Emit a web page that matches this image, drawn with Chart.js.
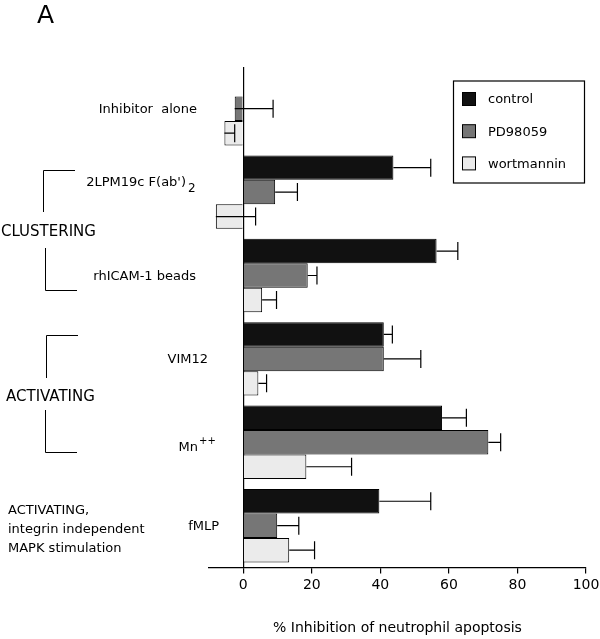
<!DOCTYPE html>
<html>
<head>
<meta charset="utf-8">
<script src="https://cdn.jsdelivr.net/npm/chart.js@4/dist/chart.umd.min.js"></script>
<style>
    html, body { margin: 0; padding: 0; background: #fff; }
    #wrap { width: 600px; height: 639px; position: relative; }
</style>
</head>
<body>
<div id="wrap"><canvas id="chart" width="600" height="639"></canvas></div>
<script>
// Data
const categories = ['Inhibitor  alone', "2LPM19c F(ab')", 'rhICAM-1 beads', 'VIM12', 'Mn', 'fMLP'];
const seriesNames = ['control', 'PD98059', 'wortmannin'];
const controlVals = [0, 43.8, 56.4, 41, 58, 39.7];
const controlErr  = [0, 10.9, 6.2, 2.5, 7.1, 15];
const pdVals      = [-2.5, 9.3, 18.8, 41, 71.5, 9.9];
const pdErr       = [11.2, 6.5, 2.7, 10.8, 3.6, 6.3];
const wortVals    = [-5.5, -8, 5.5, 4.4, 18.4, 13.4];
const wortErr     = [3, 11.6, 4.2, 2.4, 13.2, 7.4];
const xTicks      = [0, 20, 40, 60, 80, 100];

const FONT = '"DejaVu Sans", Verdana, sans-serif';
const colors = ['#111111', '#767676', '#ebebeb'];

// error bars: drawn from bar end towards positive side
const errorBars = {
    id: 'errorBars',
    afterDatasetsDraw(chart) {
        const ctx = chart.ctx;
        const xs = chart.scales.x;
        ctx.save();
        ctx.strokeStyle = '#000';
        ctx.lineWidth = 1.2;
        chart.data.datasets.forEach((ds, i) => {
            const meta = chart.getDatasetMeta(i);
            meta.data.forEach((bar, j) => {
                const e = ds.errors[j];
                if (!e) return;
                const x0 = xs.getPixelForValue(ds.data[j]);
                const x1 = xs.getPixelForValue(ds.data[j] + e);
                const y = bar.y;
                ctx.beginPath();
                ctx.moveTo(x0, y);
                ctx.lineTo(x1, y);
                ctx.moveTo(x1, y - 9);
                ctx.lineTo(x1, y + 9);
                ctx.stroke();
            });
        });
        ctx.restore();
    }
};

// category labels, group brackets, legend box, panel letter
const annotations = {
    id: 'annotations',
    afterDraw(chart) {
        const ctx = chart.ctx;
        const ys = chart.scales.y;
        ctx.save();
        ctx.fillStyle = '#000';
        ctx.textBaseline = 'middle';

        // category labels (right edges vary as in the figure)
        const rightEdges = [197, 186, 196, 208, 198, 219];
        categories.forEach((c, i) => {
            const y = ys.getPixelForValue(i);
            ctx.font = '13px ' + FONT;
            ctx.textAlign = 'right';
            if (i === 1) {
                ctx.fillText(c, rightEdges[i], y - 9);
                ctx.font = '12px ' + FONT;
                ctx.textAlign = 'left';
                ctx.fillText('2', rightEdges[i] + 2, y - 3);
            } else if (i === 4) {
                ctx.fillText(c, rightEdges[i], y + 5);
                ctx.font = '10px ' + FONT;
                ctx.textAlign = 'left';
                ctx.fillText('++', rightEdges[i] + 1, y - 1);
            } else {
                ctx.fillText(c, rightEdges[i], y + 1);
            }
        });

        // side group labels
        ctx.textAlign = 'left';
        ctx.font = '15px ' + FONT;
        ctx.fillText('CLUSTERING', 1, 232);
        ctx.fillText('ACTIVATING', 6, 397);
        ctx.font = '13px ' + FONT;
        ctx.fillText('ACTIVATING,', 8, 511);
        ctx.fillText('integrin independent', 8, 530);
        ctx.fillText('MAPK stimulation', 8, 549);

        ctx.font = '25px ' + FONT;
        ctx.fillText('A', 37, 16);

        // brackets
        ctx.strokeStyle = '#000';
        ctx.lineWidth = 1;
        ctx.beginPath();
        ctx.moveTo(75, 170.5); ctx.lineTo(43.5, 170.5); ctx.lineTo(43.5, 212);
        ctx.moveTo(45.5, 248); ctx.lineTo(45.5, 290.5); ctx.lineTo(77, 290.5);
        ctx.moveTo(78, 335.5); ctx.lineTo(46.5, 335.5); ctx.lineTo(46.5, 378);
        ctx.moveTo(45.5, 410); ctx.lineTo(45.5, 452.5); ctx.lineTo(77, 452.5);
        ctx.stroke();

        // legend
        ctx.lineWidth = 1.2;
        ctx.strokeRect(453.5, 81, 131, 102);
        chart.data.datasets.forEach((ds, i) => {
            const y = 99 + i * 32.2;
            ctx.fillStyle = ds.backgroundColor;
            ctx.fillRect(462.5, y - 6.5, 13, 13);
            ctx.lineWidth = 1;
            ctx.strokeRect(462.5, y - 6.5, 13, 13);
            ctx.fillStyle = '#000';
            ctx.font = '13px ' + FONT;
            ctx.fillText(ds.label, 488, y + 1);
        });
        ctx.restore();
    }
};

const valueSets = [controlVals, pdVals, wortVals];
const errorSets = [controlErr, pdErr, wortErr];

new Chart(document.getElementById('chart'), {
    type: 'bar',
    data: {
        labels: categories,
        datasets: seriesNames.map((name, i) => ({
            label: name,
            data: valueSets[i],
            errors: errorSets[i],
            backgroundColor: colors[i],
            borderColor: '#000',
            borderWidth: 1,
            barPercentage: 1,
            categoryPercentage: 0.88
        }))
    },
    options: {
        indexAxis: 'y',
        responsive: false,
        animation: false,
        layout: { padding: { left: 209, right: 14, top: 67, bottom: 2 } },
        plugins: { legend: { display: false }, tooltip: { enabled: false } },
        scales: {
            x: {
                min: -10,
                max: 100,
                afterBuildTicks: axis => { axis.ticks = xTicks.map(v => ({ value: v })); },
                // let layout padding alone decide the plot width
                afterFit: axis => { axis.paddingLeft = 0; axis.paddingRight = 0; },
                grid: {
                    color: c => (c.tick && c.tick.value === 0) ? '#000' : 'transparent',
                    tickColor: '#000',
                    tickLength: 6,
                    lineWidth: 1.2
                },
                border: { display: true, color: '#000', width: 1.2 },
                ticks: { color: '#000', padding: 4, font: { family: FONT, size: 14 } },
                title: {
                    display: true,
                    text: '% Inhibition of neutrophil apoptosis',
                    color: '#000',
                    font: { family: FONT, size: 14 },
                    padding: { top: 22, bottom: 0 }
                }
            },
            y: { display: false }
        }
    },
    plugins: [errorBars, annotations]
});
</script>
</body>
</html>
